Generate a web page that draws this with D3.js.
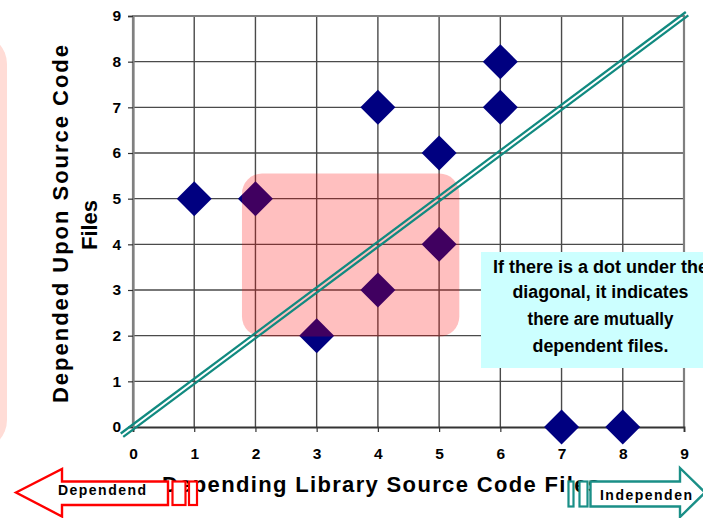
<!DOCTYPE html>
<html>
<head>
<meta charset="utf-8">
<script src="https://cdn.jsdelivr.net/npm/d3@7"></script>
<style>
  html, body { margin: 0; padding: 0; background: #fff; }
  svg { display: block; font-family: "Liberation Sans", Arial, sans-serif; }
</style>
</head>
<body>
<svg id="chart" width="703" height="518"></svg>
<script>
// ---- data ----
const libraryFiles   = [1, 2, 3, 4, 4, 5, 5, 6, 6, 7, 8];   // x: depending library source code files
const dependedFiles  = [5, 5, 2, 3, 7, 4, 6, 7, 8, 0, 0];   // y: depended upon source code files
const xTicks = [0, 1, 2, 3, 4, 5, 6, 7, 8, 9];
const yTicks = [0, 1, 2, 3, 4, 5, 6, 7, 8, 9];
const noteLines = ["If there is a dot under the", "diagonal, it indicates", "there are mutually", "dependent files."];
const yTitleLines = ["Depended Upon Source Code", "Files"];
const xTitle = "Depending Library Source Code Files";
const leftArrowLabel = "Dependend";
const rightArrowLabel = "Independen";

const svg = d3.select("#chart");
const x = d3.scaleLinear().domain([0, 9]).range([133, 684]);
const y = d3.scaleLinear().domain([0, 9]).range([427, 16]);

// left faint pink rounded shape
svg.append("rect").attr("x", -60).attr("y", 34).attr("width", 67).attr("height", 416)
  .attr("rx", 30).attr("fill", "#ffdcd6");

// gridlines
const grid = svg.append("g");
grid.selectAll(".vg").data(xTicks.slice(1, -1)).join("line")
  .attr("x1", d => x(d)).attr("x2", d => x(d)).attr("y1", y(9)).attr("y2", y(0))
  .attr("stroke", "#4a4a4a").attr("stroke-width", 1.4);
grid.selectAll(".hg").data(yTicks.slice(1, -1)).join("line")
  .attr("y1", d => y(d)).attr("y2", d => y(d)).attr("x1", x(0)).attr("x2", x(9))
  .attr("stroke", "#4a4a4a").attr("stroke-width", 1.4);

// plot border (top, right, left gray)
svg.append("path")
  .attr("d", `M${x(0)},${y(0)} L${x(0)},${y(9)} L${x(9)},${y(9)} L${x(9)},${y(0)}`)
  .attr("fill", "none").attr("stroke", "#808080").attr("stroke-width", 2.2);

// axes
const xAxis = d3.axisBottom(x).tickValues(xTicks).tickSize(5).tickPadding(16).tickFormat(d3.format("d"));
const gx = svg.append("g").attr("transform", `translate(0,${y(0)})`).call(xAxis);
gx.select(".domain").attr("stroke", "#333").attr("stroke-width", 1.8);
gx.selectAll(".tick line").attr("stroke", "#333").attr("stroke-width", 1.2);
gx.selectAll(".tick text").style("font-size", "15.5px").style("font-weight", "bold")
  .style("font-family", "Liberation Sans, Arial, sans-serif").attr("fill", "#000");

const yAxis = d3.axisLeft(y).tickValues(yTicks).tickSize(5).tickPadding(7).tickFormat(d3.format("d"));
const gy = svg.append("g").attr("transform", `translate(${x(0)},0)`).call(yAxis);
gy.select(".domain").attr("stroke", "#808080").attr("stroke-width", 2.2);
gy.selectAll(".tick line").attr("stroke", "#333").attr("stroke-width", 1.2);
gy.selectAll(".tick text").style("font-size", "15.5px").style("font-weight", "bold")
  .style("font-family", "Liberation Sans, Arial, sans-serif").attr("fill", "#000");

// diamonds
const pts = libraryFiles.map((v, i) => ({ x: v, y: dependedFiles[i] }));
const diamond = d3.symbol().type(d3.symbolSquare).size(612);
svg.append("g").selectAll("path").data(pts).join("path")
  .attr("d", diamond)
  .attr("transform", d => `translate(${x(d.x)},${y(d.y)}) rotate(45)`)
  .attr("fill", "#000080");

// pink highlight region (in data units)
svg.append("rect")
  .attr("x", x(1.78)).attr("y", y(5.55))
  .attr("width", x(5.33) - x(1.78)).attr("height", y(1.98) - y(5.55))
  .attr("rx", 20).attr("fill", "#ff0000").attr("fill-opacity", 0.25);

// diagonal double line y = x
const x0 = x(-0.18), y0 = y(-0.18), x1 = x(9.05), y1 = y(9.05);
const dx = x1 - x0, dy = y1 - y0, len = Math.hypot(dx, dy);
const px = -dy / len, py = dx / len;
[-2.1, 2.1].forEach(o => {
  svg.append("line")
    .attr("x1", x0 + px * o).attr("y1", y0 + py * o)
    .attr("x2", x1 + px * o).attr("y2", y1 + py * o)
    .attr("stroke", "#118a80").attr("stroke-width", 2.3);
});

// note box
svg.append("rect").attr("x", 481).attr("y", 252).attr("width", 240).attr("height", 116)
  .attr("fill", "#ccffff");
const noteBase = [273, 298, 325, 351.5];
const noteLen = [215, 176, 146, 136];
noteLines.forEach((t, i) => {
  svg.append("text").attr("x", 600.5).attr("y", noteBase[i]).attr("text-anchor", "middle")
    .attr("font-size", 17.5).attr("font-weight", "bold")
    .attr("textLength", noteLen[i]).attr("lengthAdjust", "spacingAndGlyphs")
    .text(t);
});

// y title
svg.append("text").attr("transform", "translate(68,224) rotate(-90)").attr("text-anchor", "middle")
  .attr("font-size", 22).attr("font-weight", "bold")
  .attr("textLength", 358).attr("lengthAdjust", "spacing").text(yTitleLines[0]);
svg.append("text").attr("transform", "translate(97,225) rotate(-90)").attr("text-anchor", "middle")
  .attr("font-size", 22).attr("font-weight", "bold")
  .attr("textLength", 50).attr("lengthAdjust", "spacing").text(yTitleLines[1]);

// x title
svg.append("text").attr("x", 162).attr("y", 492)
  .attr("font-size", 22).attr("font-weight", "bold")
  .attr("textLength", 438).attr("lengthAdjust", "spacing").text(xTitle);

// left red arrow
svg.append("path")
  .attr("d", "M16,492.5 L62,469 L62,481.5 L168,481.5 L168,505 L62,505 L62,516.5 Z")
  .attr("fill", "#fff").attr("stroke", "#ff0000").attr("stroke-width", 2.4).attr("stroke-linejoin", "miter");
[[172.5, 13], [189, 8]].forEach(([rx, w]) => {
  svg.append("rect").attr("x", rx).attr("y", 481.5).attr("width", w).attr("height", 23.5)
    .attr("fill", "#fff").attr("stroke", "#ff0000").attr("stroke-width", 2.2);
});
svg.append("text").attr("x", 58).attr("y", 495).attr("font-size", 14).attr("font-weight", "bold")
  .attr("textLength", 88).attr("lengthAdjust", "spacing").text(leftArrowLabel);

// right teal arrow
svg.append("path")
  .attr("d", "M590.5,481.5 L680,481.5 L680,468 L705,492.5 L680,517 L680,506.5 L590.5,506.5 Z")
  .attr("fill", "#fff").attr("stroke", "#1a8f87").attr("stroke-width", 2.4);
[[568.5, 5], [579.5, 8]].forEach(([rx, w]) => {
  svg.append("rect").attr("x", rx).attr("y", 481.5).attr("width", w).attr("height", 25)
    .attr("fill", "#fff").attr("stroke", "#1a8f87").attr("stroke-width", 2.2);
});
svg.append("text").attr("x", 600).attr("y", 500).attr("font-size", 14).attr("font-weight", "bold")
  .attr("textLength", 92).attr("lengthAdjust", "spacing").text(rightArrowLabel);
</script>
</body>
</html>
